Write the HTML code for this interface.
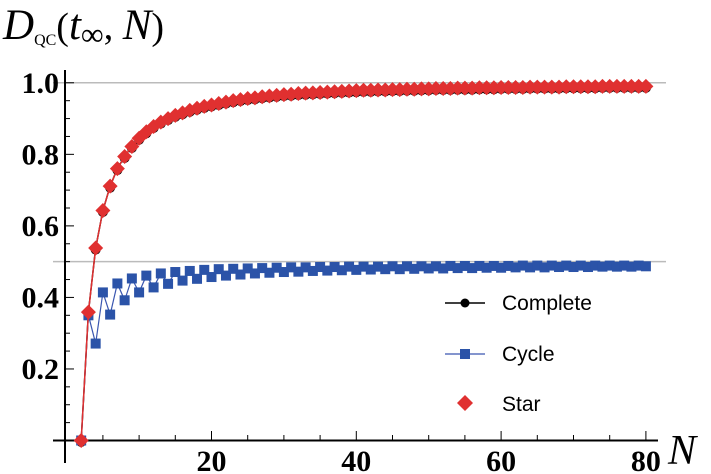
<!DOCTYPE html>
<html><head><meta charset="utf-8"><style>
html,body{margin:0;padding:0;background:#fff;width:711px;height:474px;overflow:hidden}
svg{display:block}
.yl{font-family:"Liberation Serif",serif;font-weight:bold;font-size:30px}
.lg{font-family:"Liberation Sans",sans-serif;font-size:21px}
</style></head><body>
<svg id="chart" width="711" height="474" viewBox="0 0 711 474">
<g id="grid"></g><g id="axes"></g><g id="series"></g>
<text x="3" y="39" font-family="Liberation Serif,serif" font-size="43" font-style="italic">D<tspan font-style="normal" font-size="16" dy="6">QC</tspan><tspan font-style="normal" font-size="38" dy="-6">(</tspan><tspan>t</tspan><tspan font-style="normal" font-size="32" dy="6">∞</tspan><tspan font-style="normal" font-size="38" dy="-6">, </tspan><tspan>N</tspan><tspan font-style="normal" font-size="38">)</tspan></text>
<text x="668" y="464" font-family="Liberation Serif,serif" font-size="42" font-style="italic">N</text>
<g id="legend">
<g><line x1="445" y1="303" x2="485" y2="303" stroke="#000" stroke-width="1.5"/><circle cx="465" cy="303" r="4.5" fill="#000"/><text class="lg" x="502" y="310">Complete</text></g>
<g><line x1="445" y1="354" x2="485" y2="354" stroke="#3a56b0" stroke-width="1.2"/><rect x="460" y="349" width="10" height="10" fill="#2b53a8"/><text class="lg" x="502" y="361">Cycle</text></g>
<g><polygon points="465,395 473,403 465,411 457,403" fill="#e03030"/><text class="lg" x="502" y="411">Star</text></g>
</g>
</svg>
<script>
const nValues=[];for(let n=2;n<=80;n++)nValues.push(n);
const completeValues=[0,.359,.538,.643,.711,.760,.794,.822,.845,.863,.878,.89,.90,.909,.916,.923,.929,.934,.938,.942,.946,.950,.953,.956,.958,.961,.963,.965,.967,.968,.970,.971,.972,.973,.974,.975,.976,.977,.978,.979,.979,.980,.980,.981,.981,.982,.982,.983,.983,.984,.984,.984,.985,.985,.985,.986,.986,.986,.987,.987,.987,.987,.988,.988,.988,.988,.988,.989,.989,.989,.989,.989,.990,.990,.990,.990,.990,.990,.990];
const starValues=completeValues.slice();
const cycleValues=[0,.35,.271,.414,.352,.439,.392,.453,.414,.461,.428,.467,.438,.471,.447,.474,.452,.477,.457,.479,.461,.480,.464,.481,.467,.482,.469,.483,.471,.484,.472,.484,.474,.485,.475,.485,.476,.486,.477,.486,.478,.486,.479,.487,.479,.487,.480,.487,.481,.487,.481,.488,.482,.488,.482,.488,.483,.488,.483,.488,.484,.489,.484,.489,.484,.489,.485,.489,.485,.489,.485,.489,.486,.489,.486,.489,.486,.489,.487];
const xTicks=[20,40,60,80];
const yTicks=[0.2,0.4,0.6,0.8,1.0];
const gridValues=[0.5,1.0];

const NS="http://www.w3.org/2000/svg";
const X=n=>66.7+n*7.24;
const Y=v=>440.5-v*357.7;
function mk(tag,attrs,parent){const e=document.createElementNS(NS,tag);for(const k in attrs)e.setAttribute(k,attrs[k]);parent.appendChild(e);return e;}
const grid=document.getElementById('grid'),axes=document.getElementById('axes'),ser=document.getElementById('series');
gridValues.forEach(v=>{const l=mk('line',{x1:53,x2:666,y1:Y(v),y2:Y(v),stroke:'#bbb','stroke-width':1.5},grid);

});
const xa=mk('line',{x1:53,x2:658,y1:440.5,y2:440.5,stroke:'#000','stroke-width':2},axes);


const ya=mk('line',{x1:65,x2:65,y1:70,y2:463,stroke:'#000','stroke-width':2},axes);


for(let n=5;n<=80;n+=5){mk('line',{x1:X(n),x2:X(n),y1:440,y2:n%20==0?431:435,stroke:'#000','stroke-width':1},axes);}
for(let i=1;i<=20;i++){const v=i*0.05;mk('line',{x1:65,x2:i%4==0?74:70,y1:Y(v),y2:Y(v),stroke:'#000','stroke-width':1},axes);}
xTicks.forEach(n=>{const t=mk('text',{x:X(n),y:471,'text-anchor':'middle',class:'yl'},axes);t.textContent=n;

});
yTicks.forEach(v=>{const t=mk('text',{x:59,y:Y(v)+10,'text-anchor':'end',class:'yl'},axes);t.textContent=v.toFixed(1);

});
function line(vals,color,w,name){const p=mk('polyline',{points:vals.map((v,i)=>X(nValues[i])+','+Y(v)).join(' '),fill:'none',stroke:color,'stroke-width':w},ser);

}
line(completeValues,'#000',1.5,'complete-line');
completeValues.forEach((v,i)=>{const c=mk('circle',{cx:X(nValues[i]),cy:Y(v)+1.5,r:5,fill:'#000'},ser);

});
line(cycleValues,'#3a56b0',1.2,'cycle-line');
cycleValues.forEach((v,i)=>{const r=mk('rect',{x:X(nValues[i])-5,y:Y(v)-5,width:10,height:10,fill:'#2b53a8'},ser);

});
line(starValues,'#e03030',1.5,'star-line');
starValues.forEach((v,i)=>{const x=X(nValues[i]),y=Y(v);const d=mk('polygon',{points:`${x},${y-7.5} ${x+7.5},${y} ${x},${y+7.5} ${x-7.5},${y}`,fill:'#e03030'},ser);

});
</script>
</body></html>
